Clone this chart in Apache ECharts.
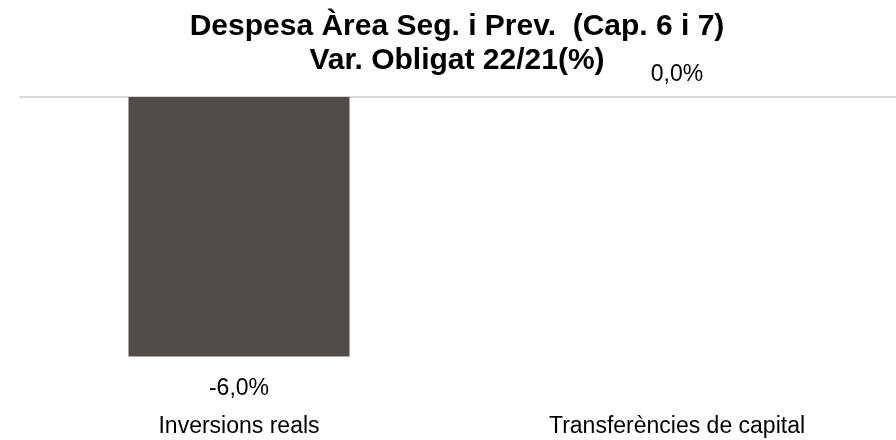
<!DOCTYPE html>
<html>
<head>
<meta charset="utf-8">
<script src="https://cdn.jsdelivr.net/npm/echarts@6/dist/echarts.min.js"></script>
<style>
  html, body { margin: 0; padding: 0; background: #fff; }
  #chart { width: 896px; height: 440px; }
</style>
</head>
<body>
<div id="chart"></div>
<script>
const categories = ['Inversions reals', 'Transferències de capital']
const varObligat = [-6.0, 0.0]
const labelPositions = ['bottom', 'top']

const fontFamily = '"Liberation Sans", Arial, sans-serif'

function pct(v) {
    return v.toFixed(1).replace('.', ',') + '%'
}

const chart = echarts.init(document.getElementById('chart'))

chart.setOption({
    animation: false,
    title: {
        text: 'Despesa Àrea Seg. i Prev.  (Cap. 6 i 7)\nVar. Obligat 22/21(%)',
        left: 452,
        top: 5,
        textAlign: 'center',
        textStyle: {
            fontFamily: fontFamily,
            fontSize: 30,
            fontWeight: 'bold',
            lineHeight: 34,
            color: '#000'
        }
    },
    grid: {
        left: 20,
        width: 882,
        top: 97,
        bottom: 83.5
    },
    xAxis: [{
        type: 'category',
        position: 'bottom',
        data: categories,
        axisLine: { show: false, onZero: false },
        axisTick: { show: false },
        axisLabel: {
            margin: 59,
            fontFamily: fontFamily,
            fontSize: 23,
            color: '#000'
        }
    }, {
        type: 'category',
        position: 'top',
        data: categories,
        axisLine: { show: true, lineStyle: { color: '#d9d9d9', width: 2 } },
        axisTick: { show: false },
        axisLabel: { show: false }
    }],
    yAxis: {
        type: 'value',
        min: -6,
        max: 0,
        show: false
    },
    series: [{
        type: 'bar',
        xAxisIndex: 0,
        barWidth: 221,
        itemStyle: { color: '#504c4a' },
        data: varObligat.map((v, i) => ({
            value: v,
            label: {
                show: true,
                position: labelPositions[i],
                distance: v < 0 ? 21 : 11,
                formatter: p => pct(p.value),
                fontFamily: fontFamily,
                fontSize: 23,
                color: '#000'
            }
        }))
    }]
})
</script>
</body>
</html>
